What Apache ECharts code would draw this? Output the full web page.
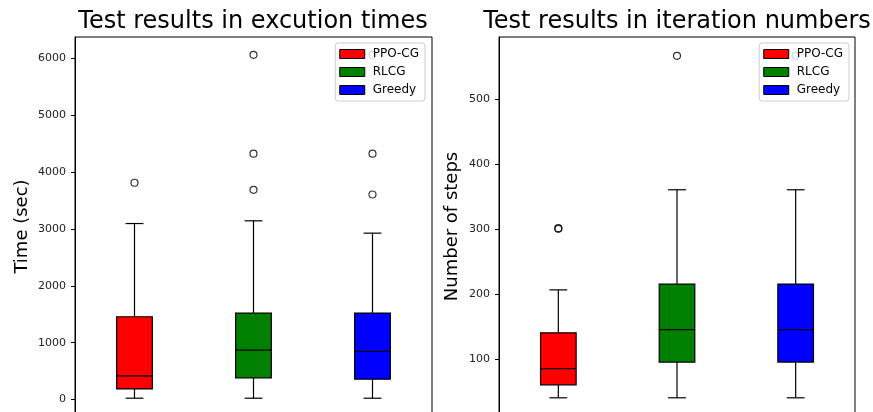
<!DOCTYPE html>
<html>
<head>
<meta charset="utf-8">
<script src="https://cdn.jsdelivr.net/npm/echarts@6/dist/echarts.min.js"></script>
<style>
  html, body { margin: 0; padding: 0; background: #fff; overflow: hidden; }
  /* The plot frames run a few pixels past the lower edge of the page */
  #chart { width: 873px; height: 420px; }
</style>
</head>
<body>
<div id="chart"></div>
<script>
// Groups compared in both panels
const categories = ['PPO-CG', 'RLCG', 'Greedy'];
const colors = ['#ff0000', '#008000', '#0000ff'];

// Execution time (sec): [lower whisker, Q1, median, Q3, upper whisker]
const timePPO = [23, 187, 416, 1457, 3097];
const timeRLCG = [23, 381, 870, 1522, 3145];
const timeGreedy = [23, 358, 847, 1522, 2928];
// Execution time outliers: [group index, value]
const timeOutliers = [[0, 3815], [1, 6067], [1, 4326], [1, 3691], [2, 6067], [2, 4326], [2, 3608]];

// Iteration count: [lower whisker, Q1, median, Q3, upper whisker]
const stepsPPO = [40, 60, 85, 140, 206];
const stepsRLCG = [40, 95, 145, 215, 360];
const stepsGreedy = [40, 95, 145, 215, 360];
// Iteration count outliers: [group index, value]
const stepsOutliers = [[0, 300], [0, 301], [1, 566], [2, 566]];

// Tick labels
const timeTicks = [0, 1000, 2000, 3000, 4000, 5000, 6000];
const stepsTicks = [100, 200, 300, 400, 500];

const FONT = 'DejaVu Sans';

// Matplotlib-style box: filled box, black median, whiskers with half-width caps
function renderBox(params, api) {
  const x = api.value(0);
  const lo = api.coord([x, api.value(1)]);
  const q1 = api.coord([x, api.value(2)]);
  const md = api.coord([x, api.value(3)]);
  const q3 = api.coord([x, api.value(4)]);
  const hi = api.coord([x, api.value(5)]);
  const band = api.size([1, 0])[0];
  const bw = band * 0.3;
  const cw = band * 0.15;
  const cx = md[0];
  const ls = { stroke: '#000', lineWidth: 1.2 };
  return {
    type: 'group',
    children: [
      { type: 'line', shape: { x1: cx, y1: q3[1], x2: cx, y2: hi[1] }, style: ls },
      { type: 'line', shape: { x1: cx, y1: q1[1], x2: cx, y2: lo[1] }, style: ls },
      { type: 'line', shape: { x1: cx - cw / 2, y1: hi[1], x2: cx + cw / 2, y2: hi[1] }, style: ls },
      { type: 'line', shape: { x1: cx - cw / 2, y1: lo[1], x2: cx + cw / 2, y2: lo[1] }, style: ls },
      { type: 'rect', shape: { x: cx - bw / 2, y: q3[1], width: bw, height: q1[1] - q3[1] },
        style: { fill: api.visual('color'), stroke: '#000', lineWidth: 1.2 } },
      { type: 'line', shape: { x1: cx - bw / 2, y1: md[1], x2: cx + bw / 2, y2: md[1] }, style: ls }
    ]
  };
}

function boxSeries(name, idx, stats, axisIdx) {
  return {
    type: 'custom',
    name: name,
    xAxisIndex: axisIdx,
    yAxisIndex: axisIdx,
    renderItem: renderBox,
    itemStyle: { color: colors[idx] },
    encode: { x: 0, y: [1, 2, 3, 4, 5] },
    data: [[idx].concat(stats)],
    z: 2
  };
}

function outlierSeries(data, axisIdx) {
  return {
    type: 'scatter',
    name: 'outliers',
    xAxisIndex: axisIdx,
    yAxisIndex: axisIdx,
    symbol: 'circle',
    symbolSize: 7,
    itemStyle: { color: 'rgba(255,255,255,0)', borderColor: '#000', borderWidth: 1.2 },
    data: data,
    z: 3
  };
}

function makeYAxis(idx, min, max, ticks, name, gap, margin) {
  return {
    type: 'value',
    gridIndex: idx,
    min: min,
    max: max,
    name: name,
    nameLocation: 'middle',
    nameGap: gap,
    nameTextStyle: { fontSize: 18, fontFamily: FONT, color: '#000' },
    axisLine: { show: true, lineStyle: { color: '#000', width: 1 } },
    axisTick: { show: true, length: 4, customValues: ticks, lineStyle: { color: '#000', width: 1 } },
    axisLabel: { customValues: ticks, fontSize: 11, fontFamily: FONT, color: '#222', margin: margin,
                 formatter: function (v) { return String(v); } },
    splitLine: { show: false }
  };
}

function makeXAxis(idx) {
  return {
    type: 'category',
    gridIndex: idx,
    data: categories,
    boundaryGap: true,
    axisLine: { show: true, onZero: false, lineStyle: { color: '#000' } },
    axisTick: { show: false },
    axisLabel: { show: false },
    splitLine: { show: false }
  };
}

function makeLegend(right) {
  return {
    data: categories,
    orient: 'vertical',
    right: right,
    top: 43,
    icon: 'rect',
    itemWidth: 25,
    itemHeight: 9,
    itemGap: 6,
    padding: [5, 6, 5, 4],
    backgroundColor: 'rgba(255,255,255,0.8)',
    borderColor: '#cccccc',
    borderWidth: 1,
    borderRadius: 3,
    itemStyle: { borderColor: '#000', borderWidth: 1 },
    textStyle: { fontSize: 12, fontFamily: FONT, color: '#000', padding: [0, 0, 0, 3] },
    selectedMode: false,
    z: 10
  };
}

const titleStyle = { fontSize: 24, fontWeight: 'normal', fontFamily: FONT, color: '#000' };

const chart = echarts.init(document.getElementById('chart'), null, { renderer: 'canvas' });
chart.setOption({
  backgroundColor: '#fff',
  animation: false,
  title: [
    { text: 'Test results in excution times', left: 248, top: 5, textAlign: 'center', textStyle: titleStyle },
    { text: 'Test results in iteration numbers', left: 672, top: 5, textAlign: 'center', textStyle: titleStyle }
  ],
  legend: [makeLegend(448), makeLegend(24)],
  grid: [
    { left: 75, top: 37, right: 441, bottom: 4, show: true, borderColor: '#000', borderWidth: 1, backgroundColor: 'transparent' },
    { left: 499, top: 37, right: 18, bottom: 4, show: true, borderColor: '#000', borderWidth: 1, backgroundColor: 'transparent' }
  ],
  xAxis: [makeXAxis(0), makeXAxis(1)],
  yAxis: [
    makeYAxis(0, -290, 6380, timeTicks, 'Time (sec)', 44, 9),
    makeYAxis(1, 12, 595, stepsTicks, 'Number of steps', 38, 9)
  ],
  series: [
    boxSeries('PPO-CG', 0, timePPO, 0),
    boxSeries('RLCG', 1, timeRLCG, 0),
    boxSeries('Greedy', 2, timeGreedy, 0),
    outlierSeries(timeOutliers, 0),
    boxSeries('PPO-CG', 0, stepsPPO, 1),
    boxSeries('RLCG', 1, stepsRLCG, 1),
    boxSeries('Greedy', 2, stepsGreedy, 1),
    outlierSeries(stepsOutliers, 1)
  ]
});
</script>
</body>
</html>
